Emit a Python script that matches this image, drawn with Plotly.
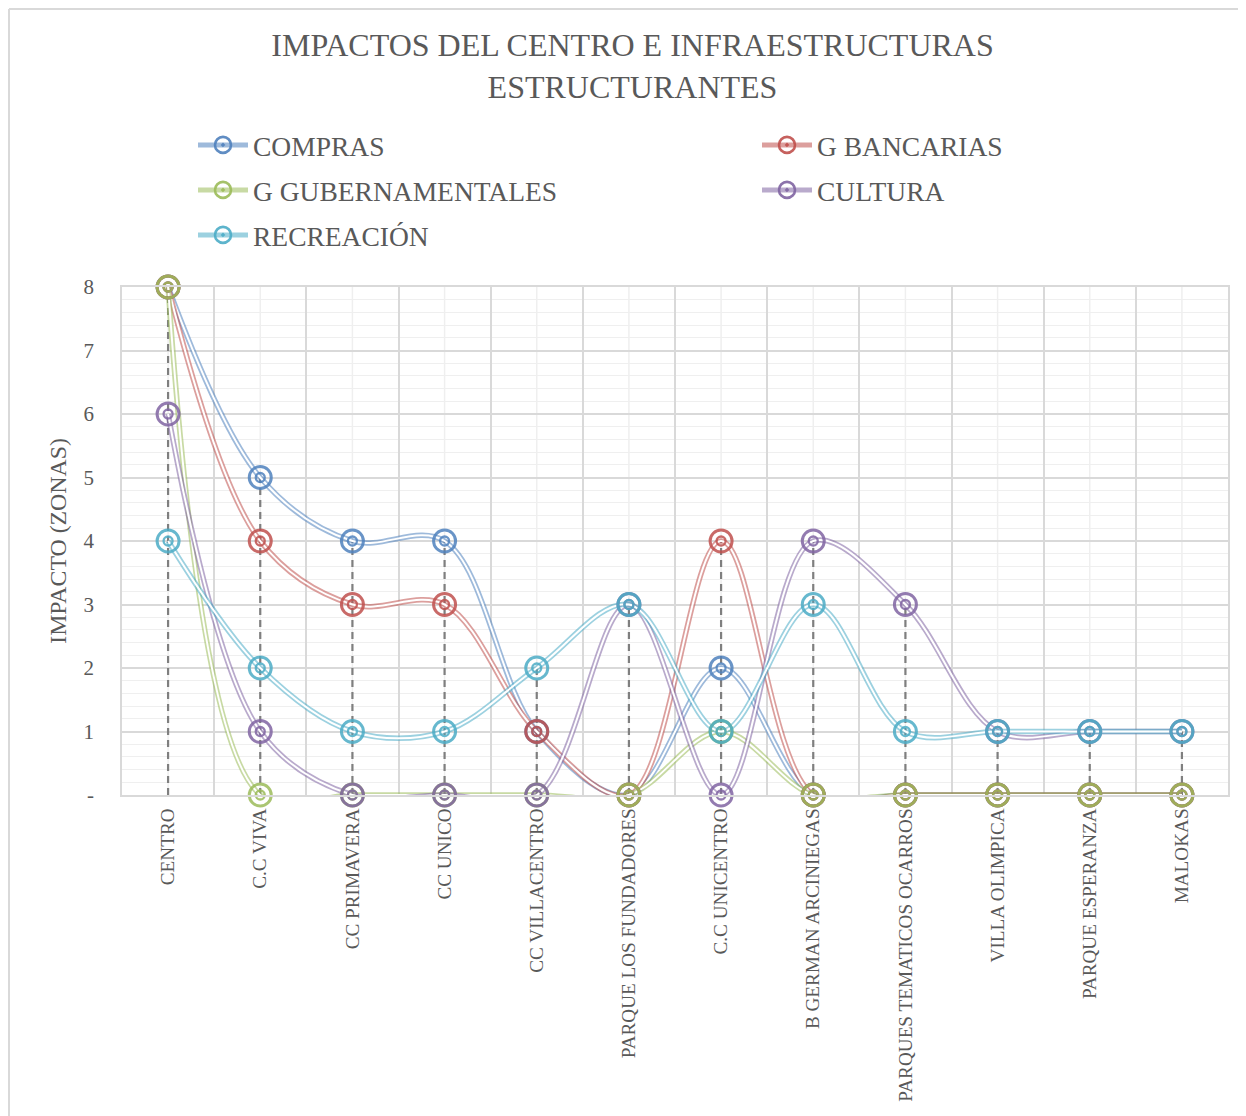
import plotly.graph_objects as go

CATEGORIES = [
    "CENTRO", "C.C VIVA", "CC PRIMAVERA", "CC UNICO", "CC VILLACENTRO",
    "PARQUE LOS FUNDADORES", "C.C UNICENTRO", "B GERMAN ARCINIEGAS",
    "PARQUES TEMATICOS OCARROS", "VILLA OLIMPICA", "PARQUE ESPERANZA", "MALOKAS",
]
COMPRAS           = [8, 5, 4, 4, 1, 0, 2, 0, 0, 0, 0, 0]
G_BANCARIAS       = [8, 4, 3, 3, 1, 0, 4, 0, 0, 0, 0, 0]
G_GUBERNAMENTALES = [8, 0, 0, 0, 0, 0, 1, 0, 0, 0, 0, 0]
CULTURA           = [6, 1, 0, 0, 0, 3, 0, 4, 3, 1, 1, 1]
RECREACION        = [4, 2, 1, 1, 2, 3, 1, 3, 1, 1, 1, 1]

Y_TICKS = [0, 1, 2, 3, 4, 5, 6, 7, 8]
Y_TICK_TEXT = ["-", "1", "2", "3", "4", "5", "6", "7", "8"]

FONT = "Liberation Serif, Times New Roman, serif"
TEXT = "#595959"
GRID = "#d9d9d9"
GRID_MINOR = "#efefef"

# page has an 8px body margin, so the figure is 8px smaller than the window
W, H = 1238, 1108
PLOT_L, PLOT_R, PLOT_T, PLOT_B = 114, 1220, 279, 787
PW, PH = PLOT_R - PLOT_L, PLOT_B - PLOT_T

# name, values, base colour (rgb), legend id, legend position (figure px: text x, row y)
SERIES = [
    ("COMPRAS", COMPRAS, (79, 129, 189), "legend", (245, 137)),
    ("G BANCARIAS", G_BANCARIAS, (192, 80, 77), "legend2", (809, 137)),
    ("G GUBERNAMENTALES", G_GUBERNAMENTALES, (155, 187, 89), "legend3", (245, 182)),
    ("CULTURA", CULTURA, (128, 100, 162), "legend4", (809, 182)),
    ("RECREACIÓN", RECREACION, (75, 172, 198), "legend5", (245, 227)),
]


def rgba(c, a):
    return f"rgba({c[0]},{c[1]},{c[2]},{a})"


fig = go.Figure()

# drop lines: from the highest value of each category down to the axis
tops = [max(v) for v in zip(COMPRAS, G_BANCARIAS, G_GUBERNAMENTALES, CULTURA, RECREACION)]
drop_x, drop_y = [], []
for cat, top in zip(CATEGORIES, tops):
    drop_x += [cat, cat, None]
    drop_y += [0, top, None]
fig.add_trace(go.Scatter(
    x=drop_x, y=drop_y, mode="lines", showlegend=False, hoverinfo="skip",
    line=dict(color="#7f7f7f", width=2.2, dash="7px,5px"),
))

# compound (double) lines: wide tinted stroke with a thin white core
for name, vals, col, _, _ in SERIES:
    fig.add_trace(go.Scatter(
        x=CATEGORIES, y=vals, mode="lines", showlegend=False, hoverinfo="skip",
        line=dict(color=rgba(col, 0.55), width=5.5, shape="spline", smoothing=1),
    ))
    fig.add_trace(go.Scatter(
        x=CATEGORIES, y=vals, mode="lines", showlegend=False, hoverinfo="skip",
        line=dict(color="white", width=2, shape="spline", smoothing=1),
    ))

# concentric ring markers
for name, vals, col, _, _ in SERIES:
    fig.add_trace(go.Scatter(
        x=CATEGORIES, y=vals, mode="markers", showlegend=False, name=name,
        cliponaxis=False,
        marker=dict(symbol="circle-open", size=22, color=rgba(col, 0.85),
                    line=dict(width=3, color=rgba(col, 0.85))),
    ))
    fig.add_trace(go.Scatter(
        x=CATEGORIES, y=vals, mode="markers", showlegend=False, hoverinfo="skip",
        cliponaxis=False,
        marker=dict(symbol="circle-open", size=9, color=rgba(col, 0.85),
                    line=dict(width=2.3, color=rgba(col, 0.85))),
    ))

# legend-only entries, one legend per entry so they sit in a 2-column grid
legends = {}
for name, vals, col, leg, (tx, ty) in SERIES:
    fig.add_trace(go.Scatter(
        x=[None], y=[None], mode="lines+markers", name=name, legend=leg,
        line=dict(color=rgba(col, 0.55), width=5),
        marker=dict(symbol="circle-open-dot", size=19, color=rgba(col, 0.9),
                    line=dict(width=2.6)),
    ))
    legends[leg] = dict(
        orientation="h", xanchor="left", yanchor="middle",
        x=(tx - 60 - PLOT_L) / PW, y=(PLOT_B - ty) / PH,
        font=dict(family=FONT, size=27.5, color=TEXT), itemwidth=50,
        bgcolor="rgba(0,0,0,0)",
    )

# light gridlines at category centres
for i, _ in enumerate(CATEGORIES):
    fig.add_shape(type="line", xref="x", yref="paper", x0=i, x1=i, y0=0, y1=1,
                  line=dict(color=GRID_MINOR, width=1.5), layer="below")

fig.update_layout(
    width=W, height=H,
    paper_bgcolor="white", plot_bgcolor="white",
    margin=dict(l=PLOT_L, r=W - PLOT_R, t=PLOT_T, b=H - PLOT_B, autoexpand=False),
    font=dict(family=FONT, color=TEXT),
    title=dict(
        text="IMPACTOS DEL CENTRO E INFRAESTRUCTURAS<br>ESTRUCTURANTES",
        x=624.5 / W, xanchor="center", xref="container",
        y=1 - 48 / H, yanchor="top", yref="container",
        font=dict(family=FONT, size=32, color=TEXT),
    ),
    **legends,
    xaxis=dict(
        type="category", range=[-0.5, len(CATEGORIES) - 0.5],
        tickson="boundaries", showgrid=True, gridcolor=GRID, gridwidth=1.5,
        tickangle=-90, tickfont=dict(family=FONT, size=19.2, color=TEXT),
        ticks="", showline=True, linecolor=GRID, linewidth=1.5, mirror=True,
        automargin=False, ticklabelstandoff=4,
    ),
    yaxis=dict(
        range=[0, 8], tickvals=Y_TICKS, ticktext=Y_TICK_TEXT,
        showgrid=True, gridcolor=GRID, gridwidth=1.5, zeroline=False,
        minor=dict(dtick=0.2, showgrid=True, gridcolor=GRID_MINOR, gridwidth=1.2),
        tickfont=dict(family=FONT, size=21, color=TEXT),
        showline=True, linecolor=GRID, linewidth=1.5, mirror=True,
        ticks="", ticklabelstandoff=22, automargin=False,
        title=dict(text="IMPACTO (ZONAS)", standoff=10,
                   font=dict(family=FONT, size=23.8, color=TEXT)),
    ),
)

# chart area border (left and top edges only are visible in the reference)
fig.add_shape(type="line", xref="paper", yref="paper",
              x0=(1 - PLOT_L) / PW, x1=(1 - PLOT_L) / PW,
              y0=(PLOT_B - H) / PH, y1=(PLOT_B - 1) / PH,
              line=dict(color=GRID, width=2), layer="below")
fig.add_shape(type="line", xref="paper", yref="paper",
              x0=(1 - PLOT_L) / PW, x1=(W - PLOT_L) / PW,
              y0=(PLOT_B - 1) / PH, y1=(PLOT_B - 1) / PH,
              line=dict(color=GRID, width=2), layer="below")

fig.write_html("out.html")
